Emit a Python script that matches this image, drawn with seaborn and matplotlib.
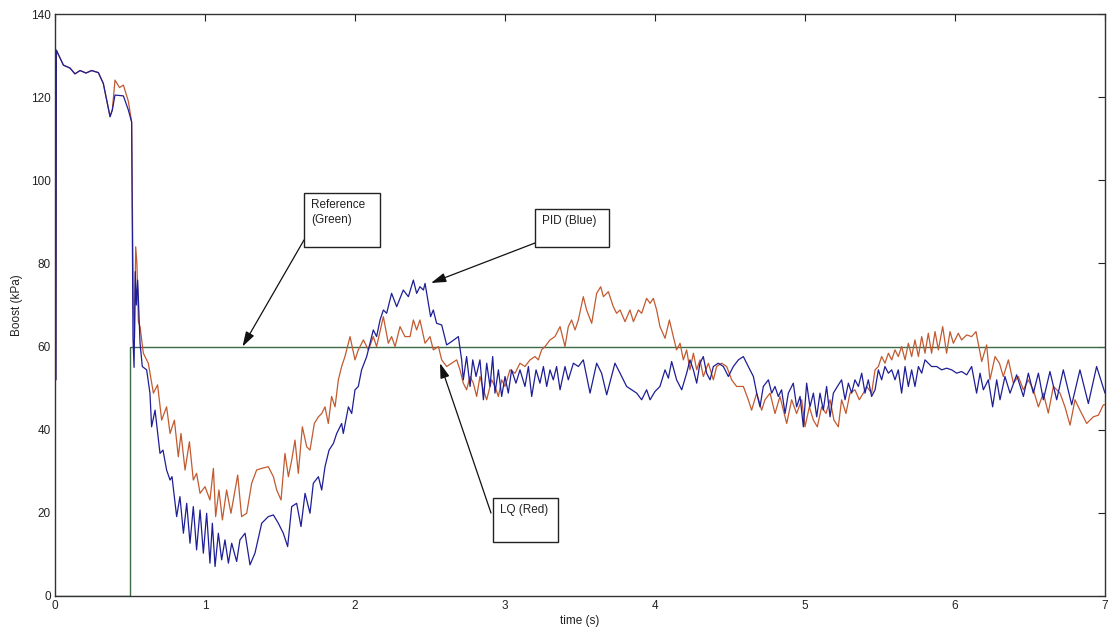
import matplotlib
matplotlib.use("Agg")
import matplotlib.pyplot as plt
from matplotlib.patches import Rectangle
import seaborn as sns

# Boost pressure response: PID vs LQ controller against a 60 kPa reference step
pid_t = [0.006, 0.009, 0.056, 0.1, 0.133, 0.167, 0.207, 0.244, 0.289, 0.322, 0.367, 0.382, 0.4, 0.456,
         0.489, 0.511, 0.52, 0.527, 0.535, 0.542, 0.551, 0.567, 0.582, 0.611, 0.633, 0.644, 0.667, 0.7,
         0.72, 0.744, 0.767, 0.78, 0.811, 0.833, 0.856, 0.878, 0.9, 0.922, 0.944, 0.967, 0.989, 1.011,
         1.033, 1.049, 1.067, 1.089, 1.111, 1.133, 1.156, 1.178, 1.211, 1.233, 1.267, 1.3, 1.333, 1.378,
         1.422, 1.456, 1.489, 1.522, 1.551, 1.578, 1.611, 1.64, 1.667, 1.7, 1.722, 1.756, 1.778, 1.8,
         1.827, 1.856, 1.878, 1.911, 1.922, 1.956, 1.978, 2.0, 2.022, 2.044, 2.078, 2.1, 2.122, 2.144,
         2.167, 2.189, 2.211, 2.244, 2.278, 2.322, 2.356, 2.389, 2.411, 2.433, 2.456, 2.467, 2.489, 2.504,
         2.522, 2.544, 2.578, 2.611, 2.644, 2.689, 2.711, 2.722, 2.744, 2.767, 2.785, 2.807, 2.833, 2.856,
         2.878, 2.9, 2.918, 2.933, 2.956, 2.978, 3.0, 3.022, 3.044, 3.073, 3.1, 3.133, 3.156, 3.178, 3.207,
         3.233, 3.256, 3.278, 3.3, 3.322, 3.344, 3.367, 3.4, 3.422, 3.456, 3.489, 3.522, 3.567, 3.611,
         3.644, 3.678, 3.733, 3.767, 3.811, 3.844, 3.878, 3.911, 3.944, 3.967, 4.0, 4.033, 4.067, 4.089,
         4.111, 4.144, 4.178, 4.211, 4.233, 4.256, 4.278, 4.3, 4.322, 4.344, 4.367, 4.389, 4.422, 4.456,
         4.489, 4.522, 4.556, 4.589, 4.622, 4.656, 4.678, 4.7, 4.722, 4.756, 4.778, 4.8, 4.822, 4.844,
         4.867, 4.889, 4.922, 4.944, 4.967, 4.989, 5.011, 5.033, 5.056, 5.078, 5.1, 5.122, 5.144, 5.167,
         5.189, 5.216, 5.244, 5.267, 5.289, 5.311, 5.333, 5.356, 5.378, 5.4, 5.422, 5.444, 5.467, 5.489,
         5.511, 5.533, 5.556, 5.578, 5.6, 5.622, 5.644, 5.667, 5.689, 5.711, 5.733, 5.756, 5.778, 5.8,
         5.822, 5.844, 5.878, 5.911, 5.944, 5.978, 6.011, 6.044, 6.078, 6.111, 6.144, 6.167, 6.189, 6.222,
         6.251, 6.278, 6.3, 6.333, 6.367, 6.411, 6.456, 6.489, 6.522, 6.556, 6.589, 6.633, 6.678, 6.722,
         6.778, 6.833, 6.889, 6.944, 7.0]
pid_kpa = [52, 131.3, 127.7, 127, 125.6, 126.4, 125.8, 126.4, 125.9, 123.3, 115.3, 116.9, 120.5, 120.3,
           116.9, 114, 62, 55, 78, 70, 76, 60.8, 55.2, 54.4, 48.8, 40.7, 44.7, 34.3,
           35.1, 30.3, 27.9, 28.7, 19.1, 23.9, 15.1, 22.3, 12.7, 21.5, 11.1, 20.7, 10.3, 19.9,
           7.9, 17.5, 7.1, 15.1, 8.7, 13.5, 7.9, 12.7, 8.3, 13.5, 15.1, 7.5, 10.3, 17.5,
           19.1, 19.5, 17.5, 15.1, 11.9, 21.5, 22.3, 16.7, 24.7, 19.9, 27.1, 28.7, 25.5, 31.1,
           35.1, 36.7, 39.1, 41.5, 39.1, 45.5, 43.9, 49.6, 50.4, 54.4, 57.6, 60.8, 64, 62.4,
           66.4, 68.8, 68, 72.8, 69.6, 73.6, 72, 76, 72.8, 74.4, 73.6, 75.2, 70.4, 67.2,
           68.8, 65.6, 65.2, 60.4, 61.2, 62.4, 56.8, 52, 57.6, 50.4, 56.8, 52.8, 56.8, 47.2,
           56, 50.4, 57.6, 48.8, 54.4, 48, 52.8, 48.8, 54.4, 51.2, 54.4, 50.4, 55.2, 48, 54.4,
           51.2, 55.2, 50.4, 54.4, 52, 55.2, 49.6, 55.2, 52, 56, 55.2, 56.8, 48.8, 56,
           53.6, 48.4, 56, 53.6, 50.4, 49.6, 48.8, 47.2, 49.6, 47.2, 49.2, 50.4, 54.4, 52.4,
           56.4, 52, 49.6, 53.6, 56.8, 54.4, 51.2, 56, 57.6, 53.6, 52, 55.2, 56, 55.2,
           52.8, 55.2, 56.8, 57.6, 55.2, 52.8, 48.8, 45.5, 50.4, 52, 48.8, 50.4, 48, 49.6,
           43.9, 48.8, 51.2, 45.5, 48, 40.7, 51.2, 45.5, 48.8, 43.1, 48.8, 44.7, 50.4, 43.1,
           48.8, 50.4, 52, 47.2, 51.2, 48.8, 52, 50.4, 53.6, 48.8, 52, 48, 49.6, 54.4,
           52, 55.2, 53.6, 54.4, 52, 54.4, 48.8, 55.2, 50.4, 54.4, 50.4, 55.2, 53.6, 56.8,
           56, 55.2, 55.2, 54.4, 54.8, 54.4, 53.6, 54, 53.2, 55.2, 48.8, 53.6, 49.6, 52,
           45.5, 52, 47.2, 52.8, 48.8, 53.2, 48, 53.6, 48.8, 53.6, 47.2, 54, 47.2, 54.4,
           46, 54.4, 46.3, 55.2, 48.8]

lq_t = [0.006, 0.009, 0.056, 0.1, 0.133, 0.167, 0.207, 0.244, 0.289, 0.322, 0.367, 0.382, 0.4, 0.43,
        0.456, 0.489, 0.511, 0.522, 0.53, 0.538, 0.546, 0.556, 0.567, 0.589, 0.622, 0.656, 0.684, 0.711,
        0.744, 0.767, 0.796, 0.822, 0.84, 0.867, 0.896, 0.922, 0.944, 0.967, 1.0, 1.033, 1.056, 1.071,
        1.093, 1.116, 1.144, 1.173, 1.218, 1.244, 1.278, 1.311, 1.344, 1.378, 1.422, 1.456, 1.478, 1.507,
        1.533, 1.556, 1.578, 1.6, 1.622, 1.649, 1.678, 1.7, 1.729, 1.756, 1.778, 1.8, 1.822, 1.844,
        1.867, 1.889, 1.911, 1.933, 1.967, 2.0, 2.022, 2.056, 2.089, 2.122, 2.144, 2.189, 2.222, 2.244,
        2.267, 2.3, 2.333, 2.367, 2.389, 2.411, 2.433, 2.467, 2.5, 2.522, 2.556, 2.578, 2.611, 2.644,
        2.678, 2.7, 2.722, 2.744, 2.767, 2.789, 2.811, 2.833, 2.856, 2.878, 2.911, 2.933, 2.956, 2.978,
        3.0, 3.033, 3.067, 3.1, 3.133, 3.167, 3.2, 3.222, 3.244, 3.267, 3.3, 3.333, 3.367, 3.4,
        3.422, 3.444, 3.467, 3.489, 3.522, 3.544, 3.578, 3.611, 3.638, 3.656, 3.689, 3.722, 3.744, 3.767,
        3.8, 3.833, 3.856, 3.889, 3.911, 3.944, 3.967, 3.989, 4.011, 4.033, 4.067, 4.096, 4.122, 4.144,
        4.167, 4.189, 4.211, 4.233, 4.256, 4.278, 4.3, 4.322, 4.356, 4.389, 4.411, 4.444, 4.478, 4.511,
        4.544, 4.589, 4.622, 4.644, 4.678, 4.711, 4.733, 4.767, 4.8, 4.833, 4.878, 4.911, 4.944, 4.978,
        5.0, 5.029, 5.056, 5.082, 5.111, 5.14, 5.167, 5.193, 5.222, 5.244, 5.273, 5.3, 5.333, 5.362,
        5.389, 5.411, 5.444, 5.467, 5.489, 5.511, 5.533, 5.556, 5.578, 5.6, 5.622, 5.644, 5.667, 5.689,
        5.711, 5.733, 5.756, 5.778, 5.8, 5.822, 5.844, 5.867, 5.889, 5.918, 5.944, 5.967, 5.989, 6.022,
        6.044, 6.078, 6.111, 6.14, 6.178, 6.211, 6.233, 6.267, 6.296, 6.322, 6.356, 6.389, 6.422, 6.456,
        6.489, 6.522, 6.556, 6.589, 6.622, 6.656, 6.7, 6.733, 6.767, 6.8, 6.833, 6.878, 6.922, 6.956,
        6.989, 7.0]
lq_kpa = [52, 131.3, 127.7, 127, 125.6, 126.4, 125.8, 126.4, 125.9, 123.3, 115.3, 116.9, 124.1, 122.3,
          122.9, 119, 114, 70, 62, 84, 80, 66, 64.8, 58.4, 56, 48.8, 50.8, 42.3,
          45.5, 39.1, 42.3, 33.5, 39.1, 30.3, 37.1, 27.9, 29.5, 24.7, 26.3, 23.1, 30.7, 19.1,
          25.5, 18.3, 25.5, 19.9, 29.1, 19.1, 19.9, 27.1, 30.3, 30.7, 31.1, 28.7, 25.5, 23.1,
          34.3, 28.7, 32.7, 37.5, 29.5, 40.7, 35.9, 35.1, 41.5, 43.1, 43.9, 45.5, 41.5, 48,
          45.5, 52, 55.2, 57.6, 62.4, 56.8, 59.2, 61.6, 59.2, 62.4, 60, 67.2, 60.8, 62.4,
          60, 64.8, 62.4, 62.4, 66.4, 64, 66.4, 60.8, 62.4, 59.2, 60, 56.8, 55.2, 56,
          56.8, 54.4, 51.2, 49.6, 52.8, 51.2, 48, 52.8, 49.6, 47.2, 52, 50.4, 48, 52,
          50.4, 54.4, 53.6, 56, 55.2, 56.8, 57.6, 56.8, 59.2, 60, 61.6, 62.4, 64.8, 60,
          64.8, 66.4, 64, 66.4, 72, 68.8, 65.6, 72.8, 74.4, 72, 73.2, 69.6, 68, 68.8,
          66, 68.8, 66, 68.8, 68, 71.6, 70.4, 71.6, 68.8, 64.8, 62, 66.4, 62.4, 59.2,
          60.8, 56.8, 59.2, 54.4, 58.4, 54.4, 56.8, 52.8, 56, 52, 55.2, 56, 55.2, 52,
          50.4, 50.4, 47.2, 44.7, 48.8, 44.7, 47.2, 48.8, 43.9, 48, 41.5, 47.2, 43.9, 47.2,
          40.7, 45.5, 42.3, 40.7, 45.5, 43.9, 47.2, 42.3, 40.7, 47.2, 43.9, 48.8, 49.6, 47.2,
          48.8, 50.4, 48.8, 54.4, 55.2, 57.6, 56, 58.4, 56.8, 59.2, 57.6, 60, 56.8, 60.8,
          57.6, 61.6, 57.6, 62.4, 58.4, 63.2, 58.4, 63.6, 59.2, 64.8, 58.4, 63.6, 60.8, 63.2,
          61.6, 62.8, 62.4, 63.6, 56.4, 60.4, 52, 57.6, 56, 52.8, 56.8, 51.2, 52.8, 49.6,
          52, 49.6, 45.5, 48.8, 44, 50.4, 48.8, 45.5, 41.1, 47.2, 44.7, 41.5, 43.1, 43.5,
          46, 46]

ref_t = [0.0, 0.5, 0.5, 7.0]
ref_kpa = [0, 0, 60, 60]

x_ticks = [0, 1, 2, 3, 4, 5, 6, 7]
y_ticks = [0, 20, 40, 60, 80, 100, 120, 140]

sns.set_style("white")
plt.rcParams["font.family"] = ["Liberation Sans", "DejaVu Sans"]

W, H = 1111, 629
fig = plt.figure(figsize=(W / 100, H / 100), dpi=100)
ax = fig.add_axes([55 / W, 1 - 596 / H, 1050 / W, 582 / H])

sns.lineplot(x=ref_t, y=ref_kpa, ax=ax, color="#3e6a48", lw=1.0, sort=False, estimator=None)
sns.lineplot(x=lq_t, y=lq_kpa, ax=ax, color="#c25a30", lw=0.9, sort=False, estimator=None)
sns.lineplot(x=pid_t, y=pid_kpa, ax=ax, color="#1e1e96", lw=0.9, sort=False, estimator=None)

ax.set_xlim(0, 7)
ax.set_ylim(0, 140)
ax.set_xticks(x_ticks)
ax.set_yticks(y_ticks)
ax.tick_params(direction="in", top=True, right=True, length=5, width=0.8,
               labelsize=8.5, colors="#222222", pad=3)
for s in ax.spines.values():
    s.set_color("#333333")
    s.set_linewidth(1.0)
ax.set_xlabel("time (s)", fontsize=8.5, color="#222222", labelpad=2)
ax.set_ylabel("Boost (kPa)", fontsize=8.5, color="#222222", labelpad=6)


def px(x, y):
    return x / W, 1 - y / H


def note(text, left, top, right, bottom, tail, tip):
    x0, y1 = px(left, top)
    x1, y0 = px(right, bottom)
    fig.patches.append(Rectangle((x0, y0), x1 - x0, y1 - y0, transform=fig.transFigure,
                                 fill=True, facecolor="white", edgecolor="#222222", lw=1.0))
    tx, ty = px(left + 7, top + 6)
    fig.text(tx, ty, text, ha="left", va="top", fontsize=8.5, color="#222222", linespacing=1.35)
    ax.annotate("", xy=tip, xycoords="data", xytext=px(*tail), textcoords="figure fraction",
                arrowprops=dict(arrowstyle="-|>,head_length=0.9,head_width=0.28",
                                color="#111111", lw=0.9, shrinkA=0, shrinkB=0))


note("Reference\n(Green)", 304, 193, 380, 247, (304, 240), (1.25, 60))
note("PID (Blue)", 535, 209, 609, 247, (535, 243), (2.507, 75.3))
note("LQ (Red)", 493, 498, 558, 542, (491, 513), (2.567, 56))

fig.savefig("out.png", dpi=100)
